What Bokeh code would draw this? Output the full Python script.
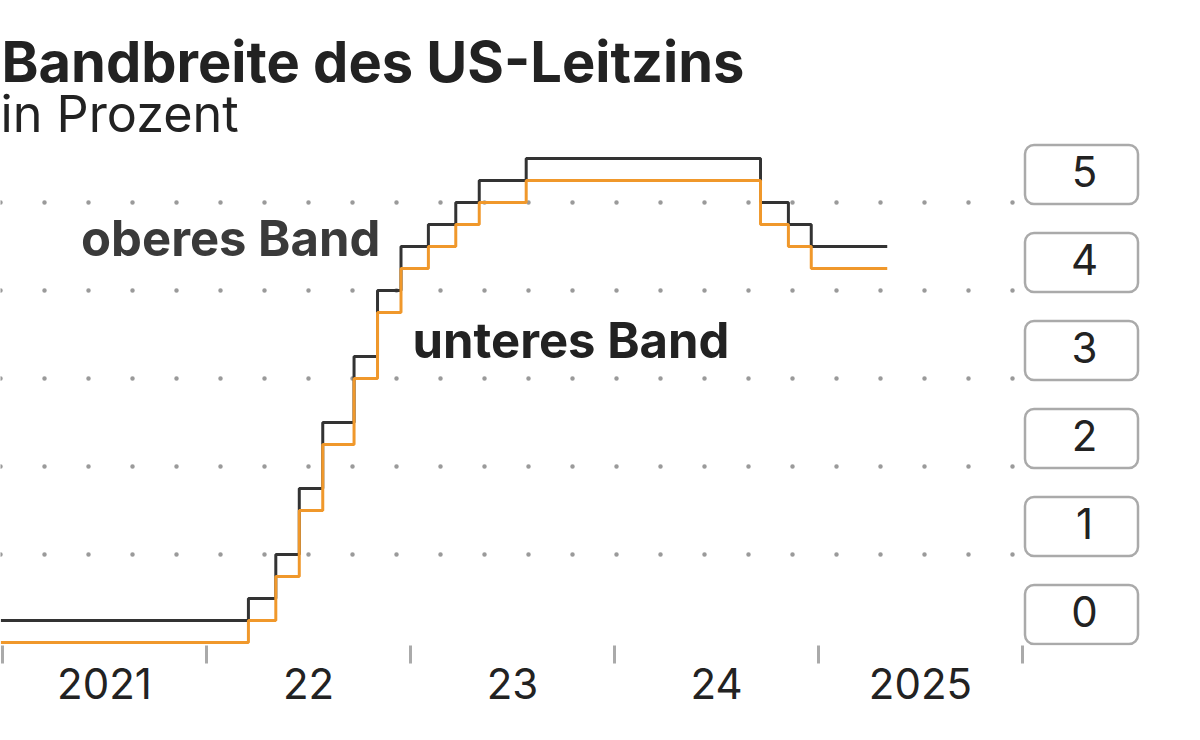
import pandas as pd
from bokeh.plotting import figure
from bokeh.models import FixedTicker, Label, Range1d
from bokeh.embed import file_html
from bokeh.resources import INLINE
from bokeh.core.properties import value

# ---------------- data ----------------
title_text = "Bandbreite des US-Leitzins"
subtitle_text = "in Prozent"
upper_label = "oberes Band"
lower_label = "unteres Band"

change_dates = ["2020-12-29", "2022-03-17", "2022-05-05", "2022-06-16", "2022-07-28",
                "2022-09-22", "2022-11-03", "2022-12-15", "2023-02-02", "2023-03-23",
                "2023-05-04", "2023-07-27", "2024-09-19", "2024-11-08", "2024-12-19",
                "2025-05-04"]
lower_band = [0.0, 0.25, 0.75, 1.5, 2.25, 3.0, 3.75, 4.25, 4.5, 4.75, 5.0, 5.25,
              4.75, 4.5, 4.25, 4.25]
upper_band = [0.25, 0.5, 1.0, 1.75, 2.5, 3.25, 4.0, 4.5, 4.75, 5.0, 5.25, 5.5,
              5.0, 4.75, 4.5, 4.5]

year_bounds = [2021, 2022, 2023, 2024, 2025, 2026]
year_label_pos = [2021.5, 2022.5, 2023.5, 2024.5, 2025.5]
year_labels = ["2021", "22", "23", "24", "2025"]

y_ticks = [0, 1, 2, 3, 4, 5]
y_labels = ["0", "1", "2", "3", "4", "5"]
grid_values = [1, 2, 3, 4, 5]

# ---------------- layout constants ----------------
W, H = 1192, 732
PX_YEAR = 204.0
PX_UNIT = 88.0
ZERO_PX = 642.0
FRAME_W = 1150
FRAME_H = 645
X0 = 2021 - 2 / PX_YEAR
X1 = X0 + FRAME_W / PX_YEAR
Y0 = (ZERO_PX - FRAME_H) / PX_UNIT
Y1 = ZERO_PX / PX_UNIT
BASE_SHIFT = 0.375  # measured baseline shift of rendered text (em)


def xv(px):
    return X0 + px / PX_YEAR


def yv(px):
    return (ZERO_PX - px) / PX_UNIT


def base_y(px, size):
    return yv(px - BASE_SHIFT * size)


d = pd.to_datetime(change_dates)
x_dates = list(d.year + (d.dayofyear - 1) / (365 + d.is_leap_year.astype(int)))

p = figure(width=W, height=H, x_range=Range1d(X0, X1), y_range=Range1d(Y0, Y1),
           output_backend="svg", toolbar_location=None, y_axis_location=None,
           min_border_left=0, min_border_right=W - FRAME_W, min_border_top=0,
           min_border_bottom=H - FRAME_H, outline_line_color=None,
           background_fill_color="white", border_fill_color="white", title=None)
p.xgrid.visible = False
p.ygrid.visible = False

ax = p.xaxis[0]
ax.ticker = FixedTicker(ticks=year_label_pos, minor_ticks=year_bounds)
ax.major_label_overrides = dict(zip(year_label_pos, year_labels))
ax.axis_line_color = None
ax.major_tick_line_color = None
ax.major_tick_out = 0
ax.major_tick_in = 0
ax.minor_tick_line_color = "#aaaaaa"
ax.minor_tick_line_width = 3
ax.minor_tick_out = 18
ax.minor_tick_in = 0
ax.major_label_text_font = "Inter"
ax.major_label_text_font_size = "42px"
ax.major_label_text_color = "#222222"
ax.major_label_standoff = 4

# dotted grid
n = len(grid_values)
p.segment(x0=[X0] * n, x1=[xv(1016)] * n, y0=grid_values, y1=grid_values,
          line_color="#9a9a9a", line_width=4.5, line_dash="0 44", line_cap="round")

# band lines
p.step(x_dates, upper_band, mode="after", line_color="#333333", line_width=3)
p.step(x_dates, lower_band, mode="after", line_color="#f0982b", line_width=3)

# right value boxes
m = len(y_ticks)
box_shift = 28 / PX_UNIT
p.rect(x=[xv(1081)] * m, y=[v + box_shift for v in y_ticks], width=113, height=59,
       width_units="screen", height_units="screen", fill_color="white",
       line_color="#aaaaaa", line_width=2.5, border_radius=9)
p.text(x=[xv(1084)] * m, y=y_ticks, text=y_labels, text_font=value("Inter"),
       text_font_size="42px", text_color="#222222", text_align="center",
       text_baseline="alphabetic", y_offset=-15 - BASE_SHIFT * 42)

# titles and annotations
p.add_layout(Label(x=X0, y=base_y(82, 56), x_offset=1, text=title_text,
                   text_font="Inter", text_font_style="bold", text_font_size="56px",
                   text_color="#222222", text_baseline="alphabetic"))
p.add_layout(Label(x=X0, y=base_y(132, 50.3), x_offset=0, text=subtitle_text,
                   text_font="Inter", text_font_size="50.3px", text_color="#222222",
                   text_baseline="alphabetic"))
p.add_layout(Label(x=xv(80.5), y=base_y(256, 49), text=upper_label, text_font="Inter",
                   text_font_style="bold", text_font_size="49px", text_color="#3a3a3a",
                   text_baseline="alphabetic"))
p.add_layout(Label(x=xv(412), y=base_y(358, 49), text=lower_label, text_font="Inter",
                   text_font_style="bold", text_font_size="49px", text_color="#222222",
                   text_baseline="alphabetic"))

open("out.html", "w").write(file_html(p, INLINE))
